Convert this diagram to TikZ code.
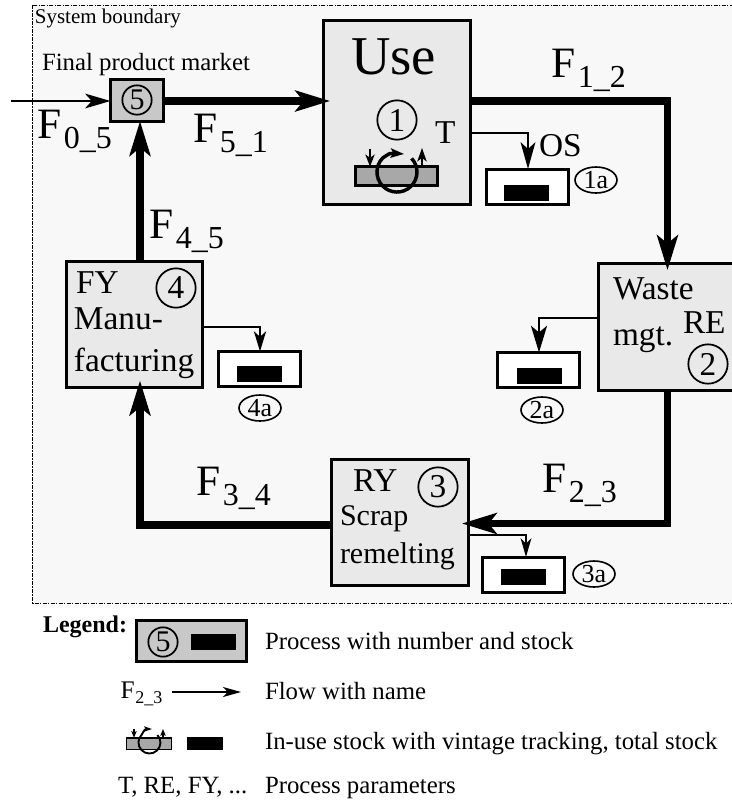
\documentclass[tikz,border=0pt]{standalone}
\usepackage{fontspec}
\setmainfont{Liberation Serif}
\usetikzlibrary{arrows.meta,shapes}
\definecolor{sysfill}{HTML}{F8F8F8}
\definecolor{procfill}{HTML}{E9E9E9}
\definecolor{marketfill}{HTML}{C8C8C8}
\definecolor{barfill}{HTML}{A8A8A8}
\newcommand{\sized}[1]{\fontsize{#1}{#1}\selectfont}
\newcommand{\flowname}[1]{{\sized{32.5}F}\kern2pt\raisebox{-7.5pt}{\sized{24}#1}}
\newcommand{\smallflow}[1]{{\sized{19}F}\kern.5pt\raisebox{-4pt}{\sized{13.5}#1}}
\tikzset{
  every node/.style={outer sep=0pt},
  boxline/.style={draw=black,line width=2.25pt,inner sep=0pt},
  processbox/.style={boxline,fill=procfill,minimum width=102pt,minimum height=94pt},
  stockbox/.style={boxline,fill=white,minimum width=61.5pt,minimum height=26.25pt},
  stockbar/.style={fill=black,inner sep=0pt,minimum width=33.75pt,minimum height=12pt},
  usebar/.style={boxline,fill=barfill},
  numcircle/.style={circle,draw=black,line width=1.3pt,inner sep=0pt,minimum size=29.5pt,font=\sized{25}},
  smallcircle/.style={numcircle,minimum size=22pt,font=\sized{22.5}},
  stocktag/.style={ellipse,draw=black,line width=1.2pt,inner sep=0pt,minimum width=31.5pt,minimum height=19.5pt,font=\sized{19.5}},
  boxtext/.style={anchor=base west,inner sep=0pt,font=\sized{25}},
  smalltext/.style={anchor=base west,inner sep=0pt,font=\sized{22.5}},
  legendtext/.style={anchor=base west,inner sep=0pt,font=\sized{18.6}},
  flowlabel/.style={anchor=base west,inner sep=0pt},
  mainflow/.style={line width=5.6pt,-{Stealth[length=26pt,width=15.5pt,inset=6pt]},shorten >=-5pt},
  feedflow/.style={line width=2.1pt},
}
\begin{document}
\begin{tikzpicture}[x=.75pt,y=-.75pt]
\useasboundingbox (0,0) rectangle (732,801);
\clip (0,0) rectangle (732,801);
% system boundary runs off the right edge
\draw[fill=sysfill,line width=.7pt,dash pattern=on 3pt off 1pt on 1pt off 1pt] (32.5,5) rectangle (745,603);
\node[legendtext,font=\sized{15.7}] (sysname) at (35,23) {System boundary};
\node[legendtext] (marketname) at (42,70) {Final product market};

\node[boxline,fill=marketfill,minimum width=39.75pt,minimum height=31.5pt] (market) at (137,100) {};
\node[smallcircle] (num5) at (137,100) {5};
\node[processbox,minimum width=110.25pt,minimum height=138pt] (use) at (397,112) {};
\node[processbox] (fy) at (134.5,324.5) {};
\node[processbox,minimum width=110pt,minimum height=95.25pt] (waste) at (671.75,327) {};
\node[processbox,minimum width=102.4pt,minimum height=94.5pt] (remelt) at (400.25,522.5) {};

\node[anchor=base west,inner sep=0pt,font=\sized{41}] (usename) at (351,74) {Use};
\node[numcircle] (num1) at (397,120) {1};
\node[boxtext] (tname) at (435,143) {T};
\node[boxtext] (fyname) at (76,293) {FY};
\node[numcircle] (num4) at (176,288) {4};
\node[boxtext] (manu) at (74,329) {Manu-};
\node[boxtext] (fact) at (74,371) {facturing};
\node[boxtext] (wastename) at (613,299) {Waste};
\node[boxtext] (mgt) at (613,345) {mgt.};
\node[boxtext] (rename) at (683,333) {RE};
\node[numcircle] (num2) at (708,364) {2};
\node[boxtext] (ryname) at (353,491) {RY};
\node[numcircle] (num3) at (438,487) {3};
\node[smalltext] (scrap) at (340,525) {Scrap};
\node[smalltext] (remeltname) at (340,563) {remelting};

% in-use stock
\node[usebar,minimum width=61.5pt,minimum height=14.25pt] (inuse) at (396.5,176) {};
\draw[line width=2.6pt,-{Stealth[length=10pt,width=7pt,inset=2pt]}] (411.6,158.4) arc[start angle=-43,end angle=225,radius=20] .. controls (390,153) .. (404,154);
\draw[line width=1.3pt,-{Stealth[length=9pt,width=7pt,inset=2.5pt]}] (370,149) -- (inuse.north -| 370,0);
\draw[line width=1.3pt,-{Stealth[length=10pt,width=7pt,inset=2.5pt]}] (inuse.north -| 422,0) -- (422,148);

% stocks
\node[stockbox] (stock1) at (527,186.5) {};
\node[stockbar] (bar1) at (526.5,193) {};
\node[stocktag] (tag1) at (596,180) {1a};
\node[boxtext] (osname) at (539,156) {OS};
\node[stockbox] (stock2) at (538.5,370) {};
\node[stockbar] (bar2) at (539,376) {};
\node[stocktag] (tag2) at (542,410) {2a};
\node[stockbox] (stock3) at (523,574.5) {};
\node[stockbar] (bar3) at (523.5,577) {};
\node[stocktag] (tag3) at (594,574) {3a};
\node[stockbox] (stock4) at (259.5,369) {};
\node[stockbar] (bar4) at (259.5,373.5) {};
\node[stocktag] (tag4) at (260,408) {4a};

\coordinate (inlet) at (11,101);
\coordinate (topright) at (667.5,101);
\coordinate (lowright) at (667.5,523.5);
\coordinate (lowleft) at (140,525);
\coordinate (turn1) at (528,133);
\coordinate (turn2) at (539,318);
\coordinate (turn3) at (526,535);
\coordinate (turn4) at (260,327);

\draw[line width=2.2pt,-{Stealth[length=19pt,width=11pt,inset=5pt]}] (inlet) -- (market.west |- inlet);
\draw[mainflow] (market.east |- inlet) -- (use.west |- inlet);
\draw[mainflow] (use.east |- topright) -- (topright) -- (waste.north -| topright);
\draw[mainflow] (waste.south -| lowright) -- (lowright) -- (remelt.east |- lowright);
\draw[mainflow] (remelt.west |- lowleft) -- (lowleft) -- (fy.south -| lowleft);
\draw[mainflow,shorten >=0pt] (fy.north -| lowleft) -- (market.south -| lowleft);
\draw[feedflow,-{Stealth[length=20pt,width=11pt,inset=5pt]}] (use.east |- turn1) -- (turn1) -- (stock1.north -| turn1);
\draw[feedflow,-{Stealth[length=20pt,width=12pt,inset=5pt]}] (waste.west |- turn2) -- (turn2) -- (stock2.north -| turn2);
\draw[feedflow,-{Stealth[length=14pt,width=8pt,inset=4pt]}] (remelt.east |- turn3) -- (turn3) -- (stock3.north -| turn3);
\draw[feedflow,-{Stealth[length=15pt,width=9pt,inset=4pt]}] (fy.east |- turn4) -- (turn4) -- (stock4.north -| turn4);

\node[flowlabel] (f05) at (37,138) {\flowname{0\_5}};
\node[flowlabel] (f51) at (193,142) {\flowname{5\_1}};
\node[flowlabel] (f45) at (149,238) {\flowname{4\_5}};
\node[flowlabel] (f12) at (551,77) {\flowname{1\_2}};
\node[flowlabel] (f23) at (542,492) {\flowname{2\_3}};
\node[flowlabel] (f34) at (196,495) {\flowname{3\_4}};

% legend
\node[legendtext,font=\sized{18}\bfseries] (legendname) at (43,632) {Legend:};
\node[boxline,fill=marketfill,minimum width=82.5pt,minimum height=30.75pt] (legendbox) at (191.5,641) {};
\node[smallcircle] (legend5) at (163,642) {5};
\node[stockbar] (legendstock) at (213.5,642) {};
\node[legendtext] (legend1) at (265,649) {Process with number and stock};
\node[flowlabel] (legendflow) at (120.5,698) {\smallflow{2\_3}};
\coordinate (legendtip) at (241,692);
\draw[line width=1.1pt,-{Stealth[length=13.5pt,width=7.5pt,inset=3.5pt]}] (172,692) -- (legendtip);
\node[legendtext] (legend2) at (265,699) {Flow with name};
\node[usebar,line width=1.1pt,minimum width=33.4pt,minimum height=8.6pt] (legendbar) at (149,743.5) {};
\draw[line width=1.4pt,-{Stealth[length=6pt,width=4pt,inset=1.5pt]}] (157.5,735) arc[start angle=-43,end angle=225,radius=11] .. controls (145,729) .. (152,729);
\draw[line width=.8pt,-{Stealth[length=5pt,width=4pt,inset=1pt]}] (134,729) -- (legendbar.north -| 134,0);
\draw[line width=.8pt,-{Stealth[length=5pt,width=4pt,inset=1pt]}] (legendbar.north -| 163,0) -- (163,729);
\node[stockbar,minimum width=27pt,minimum height=9.75pt] (legendstock2) at (205,743.5) {};
\node[legendtext] (legend3) at (265,749) {In-use stock with vintage tracking, total stock};
\node[legendtext] (legendpars) at (118,793) {T, RE, FY, ...};
\node[legendtext] (legend4) at (265,793) {Process parameters};
\end{tikzpicture}
\end{document}
